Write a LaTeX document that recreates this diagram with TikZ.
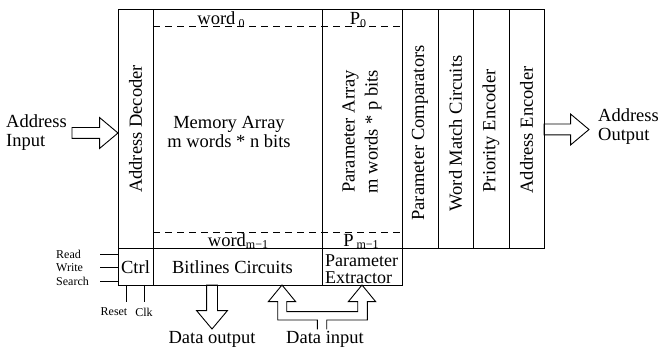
\documentclass[tikz,border=0pt]{standalone}
\usepackage{fontspec}
\setmainfont{Liberation Serif}
\usetikzlibrary{shapes.arrows, calc, positioning}

\tikzset{
	blk/.style={draw, line width=0.9pt, inner sep=0pt, outer sep=0pt, minimum height=239pt},
	lowblk/.style={draw, line width=0.9pt, inner sep=0pt, outer sep=0pt, minimum height=37pt},
	txt/.style={font=\fontsize{18.5}{19}\selectfont, inner sep=0pt},
	sig/.style={font=\fontsize{12}{12}\selectfont, inner sep=0pt},
	bigarrow/.style={draw, line width=0.9pt, single arrow, single arrow head extend=10pt,
		single arrow tip angle=80, inner sep=5pt, outer sep=0pt},
	wordline/.style={line width=0.8pt, dash pattern=on 7pt off 5pt}
}
\newcommand{\lowidx}[1]{\raisebox{-0.25ex}{\fontsize{12}{12}\selectfont #1}}

\begin{document}
\begin{tikzpicture}[x=1pt, y=-1pt]
	\useasboundingbox (0,0) rectangle (659,347);
	
	% upper blocks
	\node[blk, minimum width=35pt] (dec) at (135.5,128.5) {};
	\node[blk, minimum width=169pt, right=0pt of dec] (mem) {};
	\node[blk, minimum width=80pt, right=0pt of mem] (par) {};
	\node[blk, minimum width=36pt, right=0pt of par] (cmp) {};
	\node[blk, minimum width=35pt, right=0pt of cmp] (wm) {};
	\node[blk, minimum width=36pt, right=0pt of wm] (pri) {};
	\node[blk, minimum width=35pt, right=0pt of pri] (aenc) {};
	
	% lower blocks
	\node[lowblk, minimum width=35pt, below=0pt of dec] (ctrl) {};
	\node[lowblk, minimum width=169pt, right=0pt of ctrl] (bit) {};
	\node[lowblk, minimum width=80pt, right=0pt of bit] (ext) {};
	
	% block texts
	\node[txt, rotate=90] (dect) at ($(dec)+(0,0.5)$) {Address Decoder};
	\node[txt, align=center] (memt) at (229,132) {Memory Array\\m words * n bits};
	\node[txt, rotate=90, align=center, font=\fontsize{18.5}{23}\selectfont] (part) at ($(par)+(0,3)$)
		{Parameter Array\\m words * p bits};
	\node[txt, rotate=90] (cmpt) at ($(cmp)+(0,4.5)$) {Parameter Comparators};
	\node[txt, rotate=90] (wmt) at ($(wm)+(0,5)$) {Word Match Circuits};
	\node[txt, rotate=90] (prit) at ($(pri)+(0,2.5)$) {Priority Encoder};
	\node[txt, rotate=90] (aenct) at ($(aenc)+(0,1.5)$) {Address Encoder};
	\node[txt] (ctrlt) at ($(ctrl)+(0,0.5)$) {Ctrl};
	\node[txt] (bitt) at ($(bit)+(-5,0.5)$) {Bitlines Circuits};
	\node[txt, align=left, font=\fontsize{18}{17.5}\selectfont] (extt) at ($(ext)+(-0.5,2.5)$) {Parameter\\Extractor};
	
	% word rows
	\draw[wordline] (mem.north west |- 0,26) -- (par.north east |- 0,26);
	\draw[wordline] (mem.south west |- 0,232) -- (par.south east |- 0,232);
	\node[txt, anchor=base] (w0) at (221,25) {word\,\lowidx{0}};
	\node[txt, anchor=base] (p0) at (358,25) {P\lowidx{0}};
	\node[txt, anchor=base] (wm1) at (238,246.5) {word\lowidx{m−1}};
	\node[txt, anchor=base] (pm1) at (361,246.5) {P\,\lowidx{m−1}};
	
	% address in / out
	\node[bigarrow, minimum height=46pt, anchor=tip] (ain) at ($(dec.west)+(0,4.5)$) {};
	\node[txt, align=left, anchor=west] (aint) at (6,133) {Address\\Input};
	\node[bigarrow, minimum height=45pt, anchor=tail] (aout) at ($(aenc.east)+(0,1)$) {};
	\node[txt, align=left, anchor=west] (aoutt) at (598,127) {Address\\Output};
	
	% control signals
	\coordinate (rd) at (100,254);
	\coordinate (wr) at (100,267.5);
	\coordinate (se) at (100,281);
	\draw[line width=0.9pt] (rd) -- (ctrl.west |- rd);
	\draw[line width=0.9pt] (wr) -- (ctrl.west |- wr);
	\draw[line width=0.9pt] (se) -- (ctrl.west |- se);
	\node[sig, anchor=west] (rdt) at (56,254) {Read};
	\node[sig, anchor=west] (wrt) at (56,267.5) {Write};
	\node[sig, anchor=west] (set) at (56,281) {Search};
	\coordinate (rs) at (126.5,302.5);
	\coordinate (ck) at (144.5,302.5);
	\draw[line width=0.9pt] (ctrl.south -| rs) -- (rs);
	\draw[line width=0.9pt] (ctrl.south -| ck) -- (ck);
	\node[sig] (rst) at (114,312) {Reset};
	\node[sig] (ckt) at (144,312) {Clk};
	
	% data out
	\node[bigarrow, minimum height=44pt, shape border rotate=270, anchor=tail] (dout) at ($(bit.south)+(-25.5,0)$) {};
	\node[txt, below=2pt of dout.tip] (doutt) {Data output};
	
	% data in (forked)
	\draw[line width=0.9pt] (317.3,329.5) -- (317.3,320) -- (277.7,320) -- (277.7,301.7)
		-- (268.3,301.7) -- (282,285) -- (295.7,301.7) -- (286.7,301.7) -- (286.7,311.7)
		-- (357.7,311.7) -- (357.7,301.7) -- (348.3,301.7) -- (362,285) -- (375.7,301.7)
		-- (367.3,301.7) -- (367.3,320) -- (326.7,320) -- (326.7,329.5);
	\node[txt, anchor=north] (dint) at (325,331) {Data input};
\end{tikzpicture}
\end{document}
